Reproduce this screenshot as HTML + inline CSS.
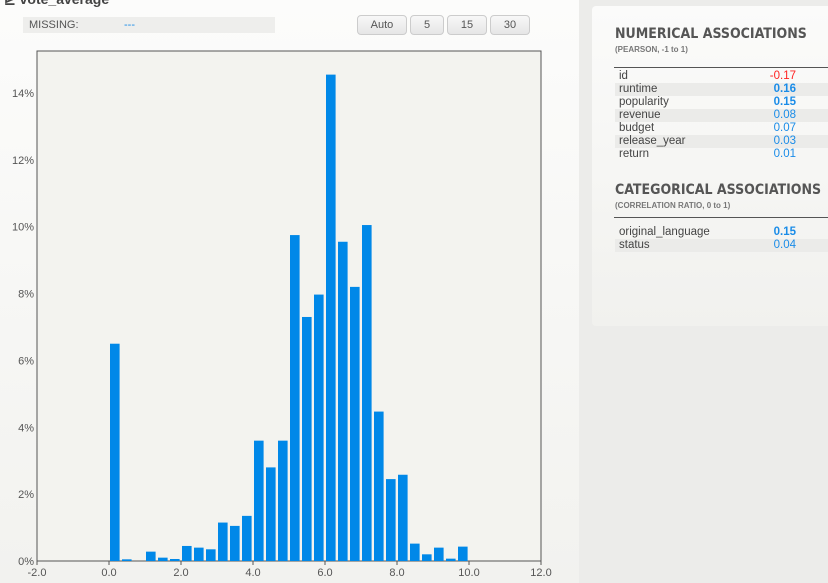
<!DOCTYPE html>
<html><head><meta charset="utf-8"><style>
body{margin:0;width:828px;height:583px;overflow:hidden;background:#ececea;font-family:"Liberation Sans",sans-serif;position:relative}
.left{position:absolute;left:0;top:0;width:579px;height:583px;background:linear-gradient(#fcfcfb,#f2f2ef)}
.right{position:absolute;left:592px;top:6px;width:240px;height:320px;background:linear-gradient(#fbfbfa,#f1f1ee);border-radius:4px}
.miss{position:absolute;left:23px;top:17px;width:252px;height:16px;background:#eeeeec;font-size:11px;color:#555;line-height:16px}
.btn{position:absolute;top:15px;height:18px;border:1px solid #ccc;border-radius:4px;background:linear-gradient(#f8f8f8,#e6e6e6);font-size:11px;color:#555;text-align:center;line-height:18px}
h2{position:absolute;left:23px;margin:0;font-size:14px;font-weight:bold;color:#555;font-family:"DejaVu Sans Condensed","Liberation Sans",sans-serif;letter-spacing:0}
.sub{position:absolute;left:23px;font-size:8px;color:#777;font-weight:bold}
.hr{position:absolute;left:22px;width:220px;border-top:1px solid #555}
.row{position:absolute;left:23px;width:220px;height:13px;font-size:11.5px;color:#444;line-height:13px}
.row span{position:absolute;left:4px}
.row b{position:absolute;left:136px;width:45px;text-align:right;font-weight:normal;color:#1a8ce8}
.row.g{background:#ebebe9}
</style></head><body>
<div class="left">
<div style="position:absolute;left:4px;top:-9px;font-size:14px;font-weight:bold;color:#444">⊵ vote_average</div>
<div class="miss"><span style="position:absolute;left:6px">MISSING:</span><span style="position:absolute;left:101px;color:#1a8ce8">---</span></div>
<div class="btn" style="left:357px;width:48px">Auto</div>
<div class="btn" style="left:410px;width:32px">5</div>
<div class="btn" style="left:447px;width:38px">15</div>
<div class="btn" style="left:490px;width:38px">30</div>
<svg id="chart" width="579" height="583" style="position:absolute;left:0;top:0"></svg>
</div>
<div class="right">
<h2 style="top:20px">NUMERICAL ASSOCIATIONS</h2>
<div class="sub" style="top:39px">(PEARSON, -1 to 1)</div>
<div class="hr" style="top:61px"></div>
<div class="row" style="top:64px"><span>id</span><b style="color:#f22">-0.17</b></div>
<div class="row g" style="top:77px"><span>runtime</span><b style="font-weight:bold">0.16</b></div>
<div class="row" style="top:90px"><span>popularity</span><b style="font-weight:bold">0.15</b></div>
<div class="row g" style="top:103px"><span>revenue</span><b>0.08</b></div>
<div class="row" style="top:116px"><span>budget</span><b>0.07</b></div>
<div class="row g" style="top:129px"><span>release_year</span><b>0.03</b></div>
<div class="row" style="top:142px"><span>return</span><b>0.01</b></div>
<h2 style="top:176px">CATEGORICAL ASSOCIATIONS</h2>
<div class="sub" style="top:195px">(CORRELATION RATIO, 0 to 1)</div>
<div class="hr" style="top:211px"></div>
<div class="row" style="top:220px"><span>original_language</span><b style="font-weight:bold">0.15</b></div>
<div class="row g" style="top:233px"><span>status</span><b>0.04</b></div>
</div>
<script>
const values=[6.5,0.05,0,0.28,0.1,0.06,0.45,0.4,0.35,1.15,1.05,1.35,3.6,2.8,3.6,9.75,7.3,7.97,14.55,9.55,8.2,10.05,4.47,2.45,2.58,0.52,0.2,0.4,0.07,0.43];
const binStarts=values.map((v,i)=>i/3);
const xTicks=[-2,0,2,4,6,8,10,12];
const yTicks=[0,2,4,6,8,10,12,14];
const X0=37,X1=541,Y0=561,Y1=93;
const sx=v=>X0+(v+2)/14*(X1-X0);
const sy=v=>Y0-v/14*(Y0-Y1);
const svg=document.getElementById('chart');const NS='http://www.w3.org/2000/svg';
function mk(t,a){const e=document.createElementNS(NS,t);for(const k in a)e.setAttribute(k,a[k]);svg.appendChild(e);return e;}
const bg=mk('rect',{x:X0,y:51,width:X1-X0,height:Y0-51,fill:'#f3f3ef',stroke:'#555','stroke-width':1});


values.forEach((v,i)=>{const x=sx(binStarts[i]),w=sx(1/3)-sx(0);
const r=mk('rect',{x:x+1,y:sy(v),width:w*0.8,height:Y0-sy(v),fill:'#0088e8'});

});
xTicks.forEach(t=>{mk('line',{x1:sx(t),x2:sx(t),y1:Y0,y2:Y0+4,stroke:'#555'});
const e=mk('text',{x:sx(t),y:Y0+15,'text-anchor':'middle','font-size':11,fill:'#555','font-family':'Liberation Sans'});e.textContent=t.toFixed(1);

});
yTicks.forEach(t=>{const e=mk('text',{x:X0-3,y:sy(t)+4,'text-anchor':'end','font-size':11,fill:'#555','font-family':'Liberation Sans'});e.textContent=t+'%';

});
</script>
</body></html>
